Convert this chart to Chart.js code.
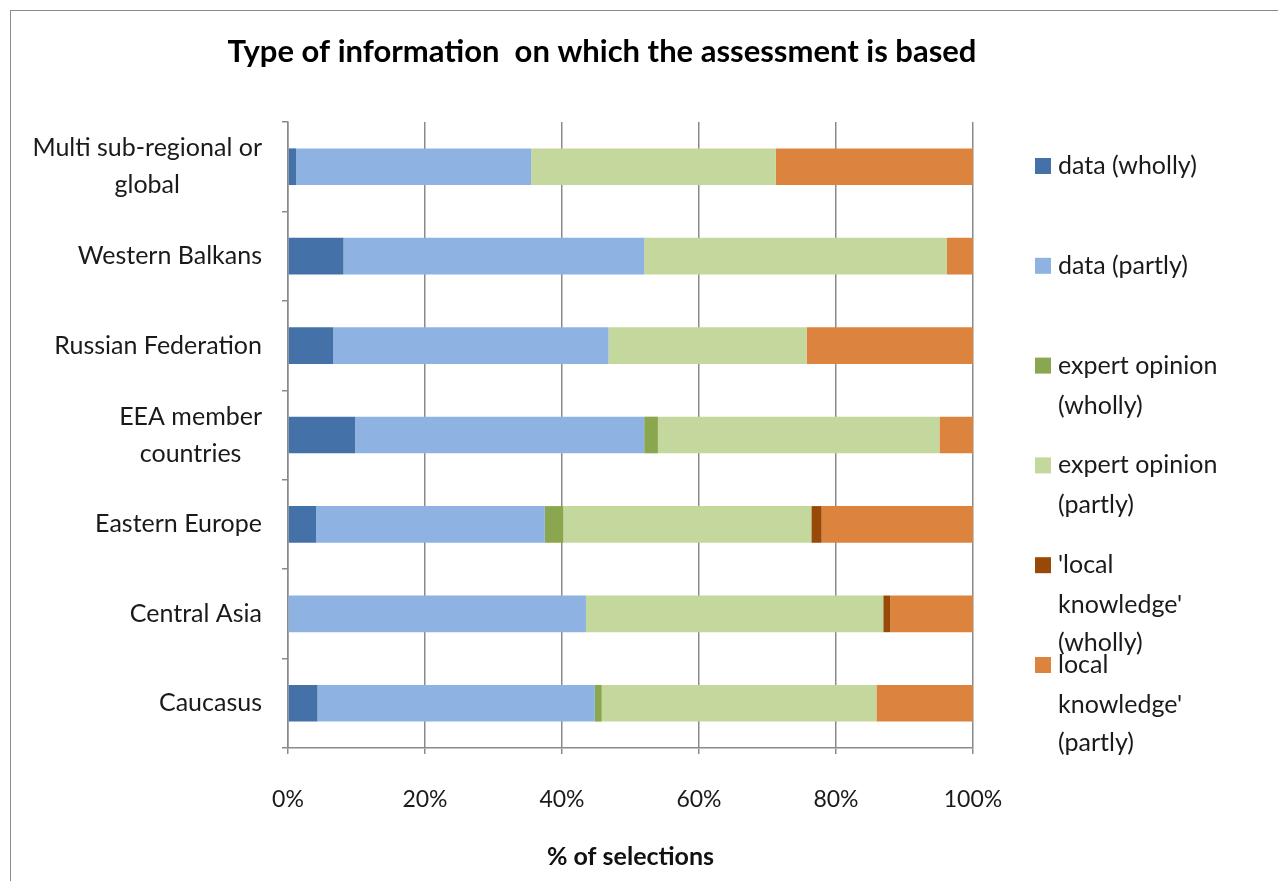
<!DOCTYPE html>
<html>
<head>
<meta charset="utf-8">
<script src="https://cdn.jsdelivr.net/npm/chart.js@4.4.0/dist/chart.umd.min.js"></script>
<style>
html, body { margin: 0; padding: 0; background: #fff; overflow: hidden; }
#wrap { position: relative; width: 1278px; height: 881px; }
#frame { position: absolute; left: 10px; top: 10px; width: 1300px; height: 900px; border-left: 1px solid #8c8c8c; border-top: 1px solid #8c8c8c; }
#chart { position: absolute; left: 0; top: 0; }
</style>
</head>
<body>
<div id="wrap">
  <div id="frame"></div>
  <canvas id="chart" width="1278" height="881"></canvas>
</div>
<script>
const chartTitle = 'Type of information  on which the assessment is based';
const axisTitle = '% of selections';
const regions = [['Multi sub-regional or', 'global'], 'Western Balkans', 'Russian Federation', ['EEA member', 'countries'], 'Eastern Europe', 'Central Asia', 'Caucasus'];
const xTicks = [0, 20, 40, 60, 80, 100];

// legend text, broken the way the original wraps it
const seriesLabels = [
    ['data (wholly)'],
    ['data (partly)'],
    ['expert opinion', '(wholly)'],
    ['expert opinion', '(partly)'],
    ["'local", "knowledge'", '(wholly)'],
    ['local', "knowledge'", '(partly)']
];
const seriesColors = ['#4472a8', '#8eb3e2', '#8aa64f', '#c4d79c', '#984807', '#dc843e'];

const dataWholly = [1.2, 8.1, 6.6, 9.8, 4.1, 0, 4.3];
const dataPartly = [34.3, 43.9, 40.2, 42.2, 33.4, 43.5, 40.5];
const expertWholly = [0, 0, 0, 2.0, 2.7, 0, 1.0];
const expertPartly = [35.7, 44.2, 28.9, 41.1, 36.2, 43.4, 40.1];
const localWholly = [0, 0, 0, 0, 1.5, 1.0, 0];
const localPartly = [28.8, 3.8, 24.3, 4.9, 22.1, 12.1, 14.1];

const seriesValues = [dataWholly, dataPartly, expertWholly, expertPartly, localWholly, localPartly];

Chart.defaults.font.family = 'Lato, "Open Sans", sans-serif';
Chart.defaults.color = '#1a1a1a';

const gridGrey = '#8a8a8a';
const textCol = '#1a1a1a';

// title drawn left of centre, like the original
const titlePlugin = {
    id: 'titlePlugin',
    afterDraw(chart) {
        const ctx = chart.ctx;
        ctx.save();
        ctx.font = 'bold 31px Lato';
        ctx.fillStyle = '#000';
        ctx.textAlign = 'center';
        ctx.textBaseline = 'middle';
        ctx.fillText(chartTitle, 602, 52);
        ctx.restore();
    }
};

// category labels: block right aligned, lines centred in the block
const regionLabels = {
    id: 'regionLabels',
    afterDraw(chart) {
        const ctx = chart.ctx;
        const yScale = chart.scales.y;
        ctx.save();
        ctx.font = '25px Lato';
        ctx.fillStyle = textCol;
        ctx.textAlign = 'center';
        ctx.textBaseline = 'middle';
        regions.forEach((lab, i) => {
            const lines = Array.isArray(lab) ? lab : [lab];
            const w = Math.max(...lines.map(l => ctx.measureText(l).width));
            const cx = yScale.right - 26 - w / 2;
            const cy = yScale.getPixelForValue(i);
            lines.forEach((l, j) => ctx.fillText(l, cx, cy + (j - (lines.length - 1) / 2) * 37));
        });
        ctx.restore();
    }
};

// legend on the right with wrapped entries
const sideLegend = {
    id: 'sideLegend',
    afterDraw(chart) {
        const ctx = chart.ctx;
        ctx.save();
        ctx.font = '25px Lato';
        ctx.textAlign = 'left';
        ctx.textBaseline = 'middle';
        chart.data.datasets.forEach((ds, i) => {
            const y0 = 166 + 99.8 * i;
            ctx.fillStyle = ds.backgroundColor;
            ctx.fillRect(1035, y0 - 8, 16, 16);
            ctx.fillStyle = textCol;
            seriesLabels[i].forEach((line, j) => {
                const dy = j === 0 ? 0 : (j === 1 ? 40 : 78);
                ctx.fillText(line, 1058, y0 + dy);
            });
        });
        ctx.restore();
    }
};

const ctx = document.getElementById('chart').getContext('2d');

const chart = new Chart(ctx, {
    type: 'bar',
    data: {
        labels: regions,
        datasets: seriesValues.map((vals, i) => ({
            label: seriesLabels[i].join(' '),
            data: vals,
            backgroundColor: seriesColors[i],
            borderWidth: 0,
            barPercentage: 0.41,
            categoryPercentage: 1
        }))
    },
    options: {
        indexAxis: 'y',
        responsive: false,
        animation: false,
        layout: { padding: { top: 122, right: 305, left: 0, bottom: 0 } },
        plugins: {
            legend: { display: false },
            title: { display: false },
            tooltip: { enabled: false }
        },
        scales: {
            x: {
                stacked: true,
                min: 0,
                max: 100,
                afterBuildTicks: (scale) => { scale.ticks = xTicks.map(v => ({ value: v })); },
                afterFit: (scale) => { scale.height = 133; },
                ticks: {
                    padding: 32,
                    font: { size: 23 },
                    color: textCol,
                    callback: (v) => v + '%'
                },
                grid: { color: gridGrey, lineWidth: 1.5, tickLength: 6 },
                border: { color: gridGrey, width: 1.5 },
                title: {
                    display: true,
                    text: axisTitle,
                    font: { size: 25, weight: 'bold' },
                    color: '#111',
                    padding: { top: 0, bottom: 9 }
                }
            },
            y: {
                stacked: true,
                afterFit: (scale) => { scale.width = 288; },
                ticks: { color: 'rgba(0,0,0,0)', font: { size: 22 } },
                grid: { drawOnChartArea: false, color: gridGrey, lineWidth: 1.5, tickLength: 6 },
                border: { color: gridGrey, width: 1.5 }
            }
        }
    },
    plugins: [titlePlugin, regionLabels, sideLegend]
});
</script>
</body>
</html>
